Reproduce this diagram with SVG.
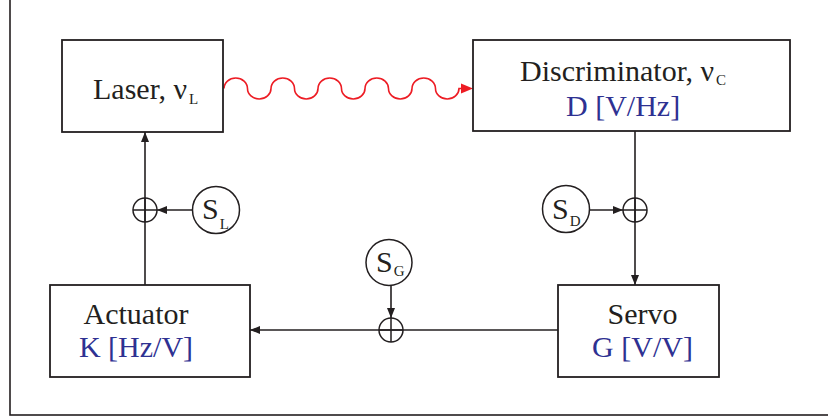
<svg xmlns="http://www.w3.org/2000/svg" width="828" height="420" viewBox="0 0 828 420">
<defs>
<style>
.box{fill:#fff;stroke:#231f20;stroke-width:1.8}
.ln{fill:none;stroke:#231f20;stroke-width:1.6}
.sum{fill:none;stroke:#231f20;stroke-width:1.5}
.src{fill:#fff;stroke:#231f20;stroke-width:1.5}
.t{font-family:"Liberation Serif","Times New Roman",serif;font-size:30px;fill:#231f20}
.b{fill:#2e3192}
.s{font-size:15px}
.wave{fill:none;stroke:#ed1c24;stroke-width:1.6}
</style>
<marker id="ah" viewBox="0 0 10 8" refX="10" refY="4" markerWidth="10" markerHeight="8" markerUnits="userSpaceOnUse" orient="auto">
<path d="M0,0 L10,4 L0,8 Z" fill="#231f20"/>
</marker>
</defs>
<rect x="10" y="-5" width="830" height="420" fill="none" stroke="#231f20" stroke-width="1.6"/>
<g id="connectors">
<path class="wave" d="M224,88.5 a11.75,10.5 0 0 1 23.5,0 a11.75,10.5 0 0 0 23.5,0 a11.75,10.5 0 0 1 23.5,0 a11.75,10.5 0 0 0 23.5,0 a11.75,10.5 0 0 1 23.5,0 a11.75,10.5 0 0 0 23.5,0 a11.75,10.5 0 0 1 23.5,0 a11.75,10.5 0 0 0 23.5,0 a11.75,10.5 0 0 1 23.5,0 a11.75,10.5 0 0 0 23.5,0 L463,88.5"/>
<path d="M461,83.5 L473,88.5 L461,93.5 Z" fill="#ed1c24"/>
<line class="ln" x1="635" y1="131" x2="635" y2="285" marker-end="url(#ah)"/>
<line class="ln" x1="558" y1="330" x2="250" y2="330" marker-end="url(#ah)"/>
<line class="ln" x1="145" y1="285" x2="145" y2="132" marker-end="url(#ah)"/>
<line class="ln" x1="192" y1="210" x2="157" y2="210" marker-end="url(#ah)"/>
<line class="ln" x1="590" y1="210" x2="623" y2="210" marker-end="url(#ah)"/>
<line class="ln" x1="391" y1="285" x2="391" y2="318" marker-end="url(#ah)"/>
</g>
<g id="laser">
<rect class="box" x="62" y="40" width="161" height="92"/>
<text class="t" x="93" y="99">Laser, ν<tspan class="s" dx="2" dy="5">L</tspan></text>
</g>
<g id="discriminator">
<rect class="box" x="473" y="40" width="317" height="91"/>
<text class="t" x="520" y="81">Discriminator, ν<tspan class="s" dx="2" dy="4">C</tspan></text>
<text class="t b" x="566" y="116">D [V/Hz]</text>
</g>
<g id="actuator">
<rect class="box" x="50" y="285" width="200" height="92"/>
<text class="t" x="136" y="324" text-anchor="middle">Actuator</text>
<text class="t b" x="136" y="357" text-anchor="middle">K [Hz/V]</text>
</g>
<g id="servo">
<rect class="box" x="558" y="285" width="161" height="92"/>
<text class="t" x="642.5" y="324" text-anchor="middle">Servo</text>
<text class="t b" x="642.5" y="357" text-anchor="middle">G [V/V]</text>
</g>
<g id="sum-L">
<circle class="sum" cx="145" cy="210" r="12"/>
<path class="sum" d="M133,210 H157 M145,198 V222"/>
</g>
<g id="sum-D">
<circle class="sum" cx="635" cy="210" r="12"/>
<path class="sum" d="M623,210 H647 M635,198 V222"/>
</g>
<g id="sum-G">
<circle class="sum" cx="391" cy="330" r="12"/>
<path class="sum" d="M379,330 H403 M391,318 V342"/>
</g>
<g id="SL">
<circle class="src" cx="216" cy="210" r="23.5"/>
<text class="t" x="202" y="219">S<tspan class="s" dx="1" dy="10">L</tspan></text>
</g>
<g id="SD">
<circle class="src" cx="566" cy="209" r="23.5"/>
<text class="t" x="552" y="219">S<tspan class="s" dx="1" dy="7">D</tspan></text>
</g>
<g id="SG">
<circle class="src" cx="389" cy="262.5" r="23"/>
<text class="t" x="376" y="272">S<tspan class="s" dx="1" dy="4">G</tspan></text>
</g>
</svg>
